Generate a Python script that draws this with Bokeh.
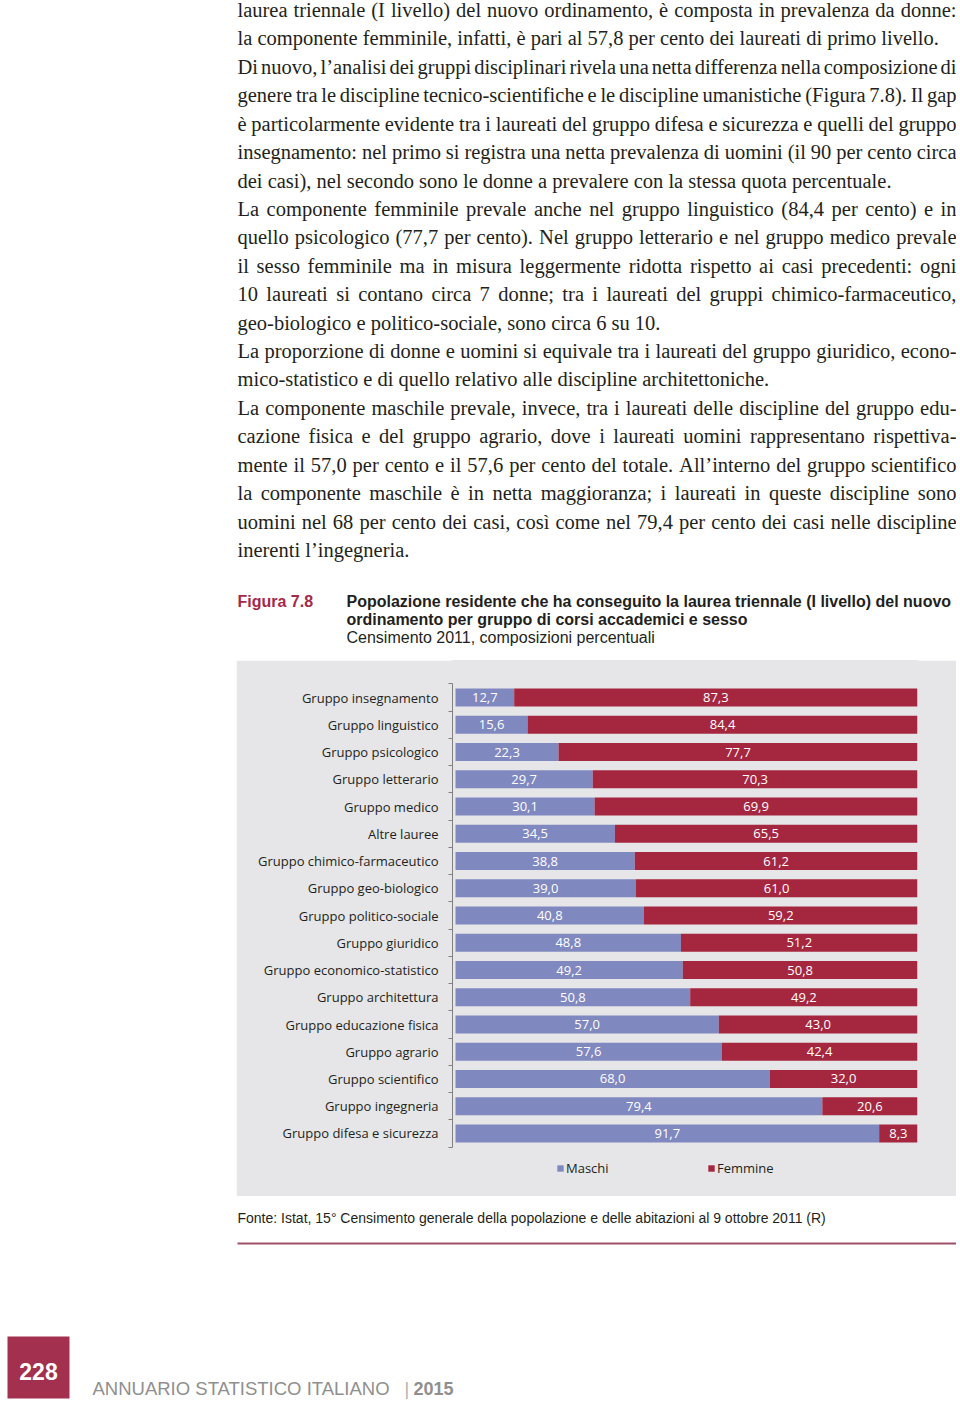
from bokeh.plotting import figure
from bokeh.models import Range1d, ColumnDataSource, Legend, LegendItem, Spacer, FixedTicker
from bokeh.layouts import column, row
from bokeh.core.properties import value
from bokeh.embed import file_html
from bokeh.resources import INLINE

# ---------------- data ----------------
categories = [
    "Gruppo insegnamento", "Gruppo linguistico", "Gruppo psicologico",
    "Gruppo letterario", "Gruppo medico", "Altre lauree",
    "Gruppo chimico-farmaceutico", "Gruppo geo-biologico",
    "Gruppo politico-sociale", "Gruppo giuridico",
    "Gruppo economico-statistico", "Gruppo architettura",
    "Gruppo educazione fisica", "Gruppo agrario", "Gruppo scientifico",
    "Gruppo ingegneria", "Gruppo difesa e sicurezza",
]
maschi = [12.7, 15.6, 22.3, 29.7, 30.1, 34.5, 38.8, 39.0, 40.8, 48.8,
          49.2, 50.8, 57.0, 57.6, 68.0, 79.4, 91.7]
femmine = [87.3, 84.4, 77.7, 70.3, 69.9, 65.5, 61.2, 61.0, 59.2, 51.2,
           50.8, 49.2, 43.0, 42.4, 32.0, 20.6, 8.3]
series_labels = ["Maschi", "Femmine"]

body_lines = [
    "laurea triennale (I livello) del nuovo ordinamento, è composta in prevalenza da donne:",
    "la componente femminile, infatti, è pari al 57,8 per cento dei laureati di primo livello.",
    "Di nuovo, l’analisi dei gruppi disciplinari rivela una netta differenza nella composizione di",
    "genere tra le discipline tecnico-scientifiche e le discipline umanistiche (Figura 7.8). Il gap",
    "è particolarmente evidente tra i laureati del gruppo difesa e sicurezza e quelli del gruppo",
    "insegnamento: nel primo si registra una netta prevalenza di uomini (il 90 per cento circa",
    "dei casi), nel secondo sono le donne a prevalere con la stessa quota percentuale.",
    "La componente femminile prevale anche nel gruppo linguistico (84,4 per cento) e in",
    "quello psicologico (77,7 per cento). Nel gruppo letterario e nel gruppo medico prevale",
    "il sesso femminile ma in misura leggermente ridotta rispetto ai casi precedenti: ogni",
    "10 laureati si contano circa 7 donne; tra i laureati del gruppi chimico-farmaceutico,",
    "geo-biologico e politico-sociale, sono circa 6 su 10.",
    "La proporzione di donne e uomini si equivale tra i laureati del gruppo giuridico, econo-",
    "mico-statistico e di quello relativo alle discipline architettoniche.",
    "La componente maschile prevale, invece, tra i laureati delle discipline del gruppo edu-",
    "cazione fisica e del gruppo agrario, dove i laureati uomini rappresentano rispettiva-",
    "mente il 57,0 per cento e il 57,6 per cento del totale. All’interno del gruppo scientifico",
    "la componente maschile è in netta maggioranza; i laureati in queste discipline sono",
    "uomini nel 68 per cento dei casi, così come nel 79,4 per cento dei casi nelle discipline",
    "inerenti l’ingegneria.",
]
paragraph_ends = [1, 6, 11, 13, 19]

fig_number = "Figura 7.8"
title_lines = [
    "Popolazione residente che ha conseguito la laurea triennale (I livello) del nuovo",
    "ordinamento per gruppo di corsi accademici e sesso",
]
subtitle = "Censimento 2011, composizioni percentuali"
source_note = "Fonte: Istat, 15° Censimento generale della popolazione e delle abitazioni al 9 ottobre 2011 (R)"
page_number = "228"
running_title = "ANNUARIO STATISTICO ITALIANO"
running_year = "2015"

# ---------------- styles ----------------
BG = "#e6e6e8"
C_M = "#8088c0"
C_F = "#a5273f"
CRIMSON = "#a3294b"
INK = "#231f20"
AX = "#808080"

# Times / Liberation Serif advance widths (1/1000 em)
TW = {" ": 250, "(": 333, ")": 333, ",": 250, "-": 333, ".": 250, ":": 278, ";": 278,
      "’": 333, "°": 400}
for ch in "0123456789":
    TW[ch] = 500
TW.update(dict(zip("ABCDEFGHIJKLMNOPQRSTUVWXYZ",
                   [722, 667, 667, 722, 611, 556, 722, 722, 333, 389, 722, 611, 889,
                    722, 722, 556, 722, 667, 556, 611, 722, 722, 944, 722, 722, 611])))
TW.update(dict(zip("abcdefghijklmnopqrstuvwxyz",
                   [444, 500, 444, 500, 444, 333, 500, 500, 278, 278, 500, 278, 778,
                    500, 500, 500, 500, 333, 389, 278, 500, 500, 722, 500, 500, 444])))
TW.update({"è": 444, "é": 444, "à": 444, "ì": 278, "ò": 500, "ù": 500})

BODY_SIZE = 20.5
LEFT, RIGHT = 237, 956
PAGE_W = 956


def tw(s):
    return sum(TW.get(c, 500) for c in s) * BODY_SIZE / 1000.0


# ---------------- text block (page top) ----------------
txt = figure(width=PAGE_W, height=660, x_range=Range1d(0, PAGE_W), y_range=Range1d(660, 0),
             output_backend="svg", toolbar_location=None, tools="",
             x_axis_location=None, y_axis_location=None, min_border=0,
             outline_line_color=None)
txt.grid.visible = False

wx, wy, wt = [], [], []
for i, line in enumerate(body_lines):
    base = 9.5 + 28.42 * i
    if i in paragraph_ends:
        wx.append(LEFT); wy.append(base); wt.append(line)
        continue
    words = line.split(" ")
    widths = [tw(w) for w in words]
    gap = (RIGHT - LEFT - sum(widths)) / (len(words) - 1)
    x = LEFT
    for w, wd in zip(words, widths):
        wx.append(x); wy.append(base); wt.append(w)
        x += wd + gap

txt.text(x=wx, y=wy, text=wt, text_font=value("Liberation Serif"),
         text_font_size=f"{BODY_SIZE}px", text_baseline="alphabetic",
         text_align="left", text_color=INK)

txt.text(x=[237], y=[601], text=[fig_number], text_font=value("Liberation Sans"),
         text_font_size="16px", text_font_style="bold", text_color=CRIMSON,
         text_baseline="alphabetic")
txt.text(x=[346, 346], y=[601, 619], text=title_lines, text_font=value("Liberation Sans"),
         text_font_size="16px", text_font_style="bold", text_color=INK,
         text_baseline="alphabetic")
txt.text(x=[346], y=[637], text=[subtitle], text_font=value("Liberation Sans"),
         text_font_size="16px", text_color=INK, text_baseline="alphabetic")

# ---------------- chart ----------------
pos = list(range(len(categories)))          # 0 = top row
chart = figure(width=720, height=536,
               y_range=Range1d(18.312, -1.358),
               x_range=Range1d(-0.649, 100),
               output_backend="svg", toolbar_location=None, tools="",
               x_axis_location=None,
               min_border_left=216, min_border_right=39,
               min_border_top=0, min_border_bottom=0,
               background_fill_color=BG, border_fill_color=BG,
               outline_line_color=BG, outline_line_width=2)
chart.grid.visible = False

src = ColumnDataSource(dict(
    pos=pos, cat=categories, Maschi=maschi, Femmine=femmine,
    mlab=[f"{v:.1f}".replace(".", ",") for v in maschi],
    flab=[f"{v:.1f}".replace(".", ",") for v in femmine],
    mx=[m / 2 for m in maschi],
    fx=[m + f / 2 for m, f in zip(maschi, femmine)],
))

rs = chart.hbar_stack(series_labels, y="pos", height=0.66,
                      fill_color=[C_M, C_F], line_color=None, source=src)

for xcol, tcol in (("mx", "mlab"), ("fx", "flab")):
    chart.text(x=xcol, y="pos", text=tcol, source=src, text_color="white",
               text_font=value("Open Sans"), text_font_size="13px",
               text_align="center", text_baseline="middle")

ax = chart.yaxis[0]
ax.ticker = FixedTicker(ticks=pos, minor_ticks=[p - 0.5 for p in pos] + [pos[-1] + 0.5])
ax.major_label_overrides = {p: c for p, c in zip(pos, categories)}
ax.bounds = (-0.5, pos[-1] + 0.5)
ax.axis_line_color = AX
ax.axis_line_width = 1
ax.major_tick_line_color = None
ax.major_tick_out = 0
ax.major_tick_in = 0
ax.minor_tick_line_color = AX
ax.minor_tick_out = 4
ax.minor_tick_in = 0
ax.major_label_standoff = 10
ax.major_label_text_font = "Open Sans"
ax.major_label_text_font_size = "13px"
ax.major_label_text_color = INK

leg = Legend(items=[LegendItem(label=series_labels[0], renderers=[rs[0]]),
                    LegendItem(label=series_labels[1], renderers=[rs[1]])],
             orientation="horizontal", location=(104, 19),
             glyph_width=8, glyph_height=8, label_standoff=2,
             label_width=130, label_height=8, spacing=11, padding=0, margin=0,
             border_line_color=None, background_fill_alpha=0,
             label_text_font="Open Sans", label_text_font_size="13px",
             label_text_color=INK)
chart.add_layout(leg, "center")

# ---------------- footer ----------------
foot = figure(width=PAGE_W, height=204, x_range=Range1d(0, PAGE_W), y_range=Range1d(1400, 1196),
              output_backend="svg", toolbar_location=None, tools="",
              x_axis_location=None, y_axis_location=None, min_border=0,
              outline_line_color=None)
foot.grid.visible = False
foot.text(x=[237], y=[1217], text=[source_note], text_font=value("Liberation Sans"),
          text_font_size="14px", text_color=INK, text_baseline="alphabetic")
foot.segment(x0=[237], x1=[956], y0=[1243], y1=[1243], line_color="#a05068", line_width=2)
foot.quad(left=[7], right=[69], top=[1336], bottom=[1398], fill_color="#a3304e", line_color=None)
foot.text(x=[38], y=[1371], text=[page_number], text_font=value("Liberation Sans"),
          text_font_size="23px", text_font_style="bold", text_color="white",
          text_align="center", text_baseline="alphabetic")
foot.text(x=[92], y=[1388], text=[running_title], text_font=value("Liberation Sans"),
          text_font_size="18.5px", text_color="#8f8f8f", text_baseline="alphabetic")
foot.text(x=[404], y=[1388], text=["|"], text_font=value("Liberation Sans"),
          text_font_size="18px", text_color="#b0b0b0", text_baseline="alphabetic")
foot.text(x=[413], y=[1388], text=[running_year], text_font=value("Liberation Sans"),
          text_font_size="18px", text_font_style="bold", text_color="#8f8f8f",
          text_baseline="alphabetic")

layout = column(txt, row(Spacer(width=236, height=536), chart), foot, spacing=0)

open("out.html", "w").write(file_html(layout, INLINE))
